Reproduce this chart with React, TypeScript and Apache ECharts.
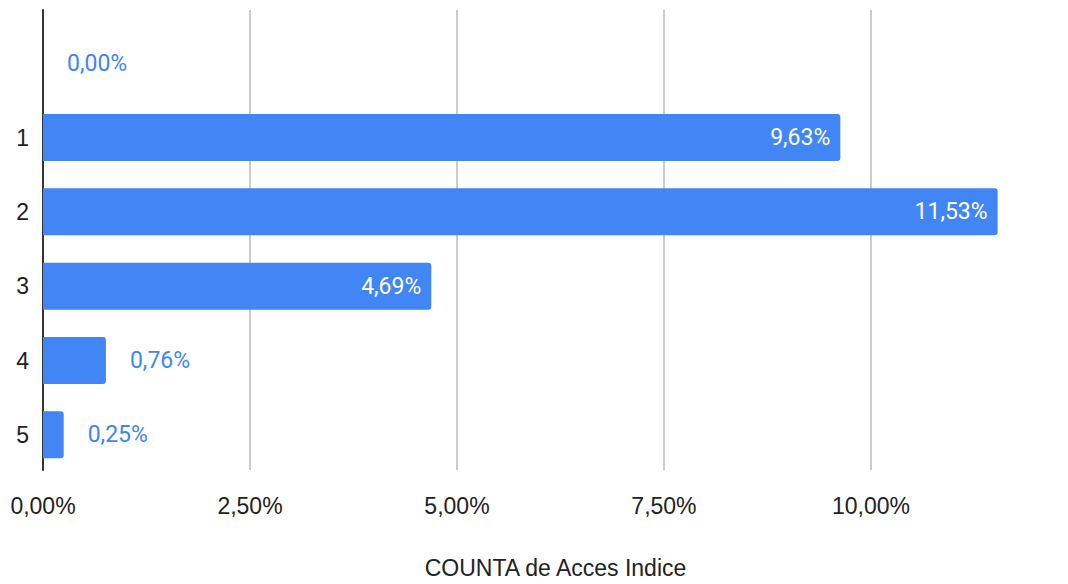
import React, { useEffect, useRef } from "react";
import * as echarts from "echarts";

const categories = ["", "1", "2", "3", "4", "5"];
const values = [0, 9.63, 11.53, 4.69, 0.76, 0.25];
const axisTitle = "COUNTA de Acces Indice";
const xMin = 0;
const xMax = 12.38;
const xInterval = 2.5;

const BLUE = "#4285F4";
const fmt = (v: number) => v.toFixed(2).replace(".", ",") + "%";

export default function App() {
  const ref = useRef<HTMLDivElement>(null);
  useEffect(() => {
    if (!ref.current) return;
    const chart = echarts.init(ref.current, undefined, { renderer: "svg" });
    const data = values.map((v) => {
      const inside = v > 2;
      return {
        value: v,
        label: inside
          ? { position: "insideRight", distance: 10, color: "#ffffff" }
          : { position: "right", distance: 24, color: BLUE },
      };
    });
    chart.setOption({
      animation: false,
      grid: [
        { left: 43, right: 0, top: 10, height: 475, containLabel: false },
        { left: 43, right: 0, top: 26, height: 446, containLabel: false },
      ],
      xAxis: [
        {
          gridIndex: 0,
          type: "value",
          min: xMin,
          max: xMax,
          interval: xInterval,
          axisLine: { show: false },
          axisTick: { show: false },
          splitLine: {
            show: true,
            showMinLine: false,
            showMaxLine: false,
            lineStyle: { color: "#cccccc", width: 2 },
          },
          axisLabel: {
            showMaxLabel: false,
            margin: 24,
            fontFamily: "Liberation Sans",
            fontSize: 23,
            color: "#222222",
            formatter: (v: number) => fmt(v),
          },
          name: axisTitle,
          nameLocation: "middle",
          nameGap: 86,
          nameTextStyle: { fontFamily: "Liberation Sans", fontSize: 23, color: "#222222" },
        },
        {
          gridIndex: 1,
          type: "value",
          min: xMin,
          max: xMax,
          interval: xInterval,
          show: false,
        },
      ],
      yAxis: [
        {
          gridIndex: 0,
          type: "value",
          min: 0,
          max: 1,
          axisLine: { show: true, lineStyle: { color: "#333333", width: 2 } },
          axisTick: { show: false },
          axisLabel: { show: false },
          splitLine: { show: false },
        },
        {
          gridIndex: 1,
          type: "category",
          data: categories,
          inverse: true,
          axisLine: { show: false },
          axisTick: { show: false },
          axisLabel: {
            margin: 14,
            fontFamily: "Liberation Sans",
            fontSize: 23,
            color: "#222222",
          },
        },
      ],
      series: [
        {
          type: "bar",
          xAxisIndex: 1,
          yAxisIndex: 1,
          data,
          barWidth: 47,
          itemStyle: { color: BLUE, borderRadius: [0, 3, 3, 0] },
          label: {
            show: true,
            fontFamily: "Roboto",
            fontSize: 23,
            formatter: (p: any) => fmt(p.value),
          },
        },
      ],
    });
    return () => chart.dispose();
  }, []);
  return (
    <div
      ref={ref}
      style={{ position: "absolute", left: 0, top: 0, width: 1068, height: 584, background: "#ffffff" }}
    />
  );
}
